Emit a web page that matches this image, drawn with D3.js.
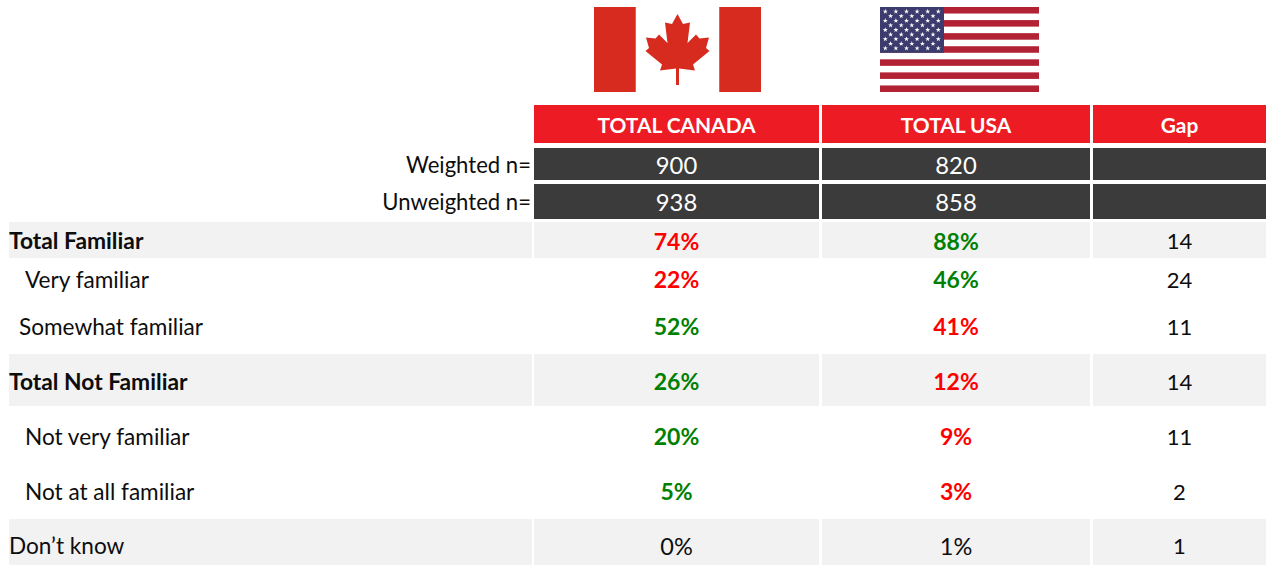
<!DOCTYPE html>
<html>
<head>
<meta charset="utf-8">
<script src="https://cdn.jsdelivr.net/npm/d3@7"></script>
<style>
    html, body { margin: 0; padding: 0; background: #fff; }
    svg { display: block; }
    text { font-family: Lato, "Open Sans", sans-serif; }
</style>
</head>
<body>
<div id="chart"></div>
<script>
const columns = ["TOTAL CANADA", "TOTAL USA", "Gap"];
const sampleRows = ["Weighted n=", "Unweighted n="];
const canadaSample = [900, 938];
const usaSample = [820, 858];

const rowLabels = ["Total Familiar", "Very familiar", "Somewhat familiar", "Total Not Familiar", "Not very familiar", "Not at all familiar", "Don’t know"];
const canadaValues = [74, 22, 52, 26, 20, 5, 0];
const usaValues = [88, 46, 41, 12, 9, 3, 1];
const gapValues = [14, 24, 11, 14, 11, 2, 1];
// g = green, r = red, n = plain black
const canadaTones = ["r", "r", "g", "g", "g", "g", "n"];
const usaTones = ["g", "g", "r", "r", "r", "r", "n"];
const shadedRows = ["Total Familiar", "Total Not Familiar", "Don’t know"];
const boldRows = ["Total Familiar", "Total Not Familiar"];
const indents = [0, 16, 10, 0, 16, 16, 0];

const outerWidth = 1266;
const outerHeight = 565;
const allRows = ["header"].concat(sampleRows, rowLabels);

// row edges are uneven in the original, so the scales are ordinal
const rowTop = d3.scaleOrdinal().domain(allRows).range([105, 148, 184, 222, 258, 304, 354, 406, 464, 519]);
const rowBottom = d3.scaleOrdinal().domain(allRows).range([143, 180, 219, 258, 304, 353, 406, 464, 518, 565]);
const rowMiddle = d3.scaleOrdinal().domain(allRows).range([126, 165.5, 202.5, 241.5, 280, 327, 382, 437, 492, 546.5]);
const colLeft = d3.scaleOrdinal().domain(columns).range([534, 822, 1093]);
const colRight = d3.scaleOrdinal().domain(columns).range([819, 1090, 1266]);
const colMiddle = (c) => (colLeft(c) + colRight(c)) / 2;
const toneColor = d3.scaleOrdinal().domain(["g", "r", "n"]).range(["#008000", "#ff0000", "#0d0d0d"]);

const svg = d3.select("#chart")
    .append("svg")
    .attr("width", outerWidth)
    .attr("height", outerHeight);

function drawCanadaFlag(g) {
    const x = d3.scaleLinear().domain([0, 1]).range([594, 761]);
    const y = d3.scaleLinear().domain([0, 1]).range([7, 92]);
    const red = "#d62b1e";
    g.append("rect").attr("x", x(0)).attr("y", y(0)).attr("width", x(0.25) - x(0)).attr("height", y(1) - y(0)).attr("fill", red);
    g.append("rect").attr("x", x(0.75)).attr("y", y(0)).attr("width", x(1) - x(0.75)).attr("height", y(1) - y(0)).attr("fill", red);

    // right half of the leaf, mirrored for the left half
    const half = [[0, 14], [5.5, 24], [12.5, 22.5], [10, 43], [18.5, 34.5], [22, 38.5], [31.5, 37.5], [28.5, 48], [32, 51], [15.5, 64.5], [17.5, 70.5], [1.5, 68.5], [1.5, 85], [0, 85]];
    const points = half.concat(half.slice().reverse().map((p) => [-p[0], p[1]]));
    g.append("path")
        .attr("d", d3.line().x((p) => 677.5 + p[0]).y((p) => p[1])(points) + "Z")
        .attr("fill", red);
}

function drawUsaFlag(g) {
    const left = 880;
    const right = 1039;
    const y = d3.scaleBand().domain(d3.range(13)).range([7, 92]);
    g.selectAll(".stripe")
        .data(d3.range(13).filter((i) => i % 2 === 0))
        .enter()
        .append("rect")
        .attr("class", "stripe")
        .attr("x", left)
        .attr("y", (i) => y(i))
        .attr("width", right - left)
        .attr("height", y.bandwidth())
        .attr("fill", "#b22234");
    const cantonRight = 944;
    const cantonBottom = y(7);
    g.append("rect")
        .attr("x", left)
        .attr("y", 7)
        .attr("width", cantonRight - left)
        .attr("height", cantonBottom - 7)
        .attr("fill", "#3c3b6e");

    const stars = [];
    d3.range(9).forEach((row) => {
        d3.range(row % 2 === 0 ? 6 : 5).forEach((col) => stars.push({row, col}));
    });
    const star = d3.symbol().type(d3.symbolStar).size(8);
    g.selectAll(".star")
        .data(stars)
        .enter()
        .append("path")
        .attr("class", "star")
        .attr("d", star)
        .attr("fill", "#ffffff")
        .attr("transform", (d) => `translate(${left + 5.3 + d.col * 10.6 + (d.row % 2 ? 5.3 : 0)}, ${11.5 + d.row * 4.6})`);
}

const flags = svg.append("g");
drawCanadaFlag(flags.append("g"));
drawUsaFlag(flags.append("g"));

function cell(row, col, fill) {
    svg.append("rect")
        .attr("x", colLeft(col))
        .attr("y", rowTop(row))
        .attr("width", colRight(col) - colLeft(col))
        .attr("height", rowBottom(row) - rowTop(row))
        .attr("fill", fill);
}

function label(x, row, str, color, size, weight, anchor) {
    svg.append("text")
        .attr("x", x)
        .attr("y", rowMiddle(row))
        .attr("dy", "0.35em")
        .attr("text-anchor", anchor || "middle")
        .attr("fill", color)
        .attr("font-size", size)
        .attr("font-weight", weight || 400)
        .text(str);
}

columns.forEach((c) => {
    cell("header", c, "#ed1c24");
    label(colMiddle(c), "header", c, "#ffffff", 20.9, 700);
    sampleRows.forEach((r) => cell(r, c, "#3b3b3b"));
});

sampleRows.forEach((r, i) => {
    label(531, r, r, "#0d0d0d", 22.1, 400, "end");
    label(colMiddle(columns[0]), r, canadaSample[i], "#ffffff", 23.8);
    label(colMiddle(columns[1]), r, usaSample[i], "#ffffff", 23.8);
});

shadedRows.forEach((r) => {
    svg.append("rect")
        .attr("x", 9)
        .attr("y", rowTop(r))
        .attr("width", 523)
        .attr("height", rowBottom(r) - rowTop(r))
        .attr("fill", "#f2f2f2");
    columns.forEach((c) => cell(r, c, "#f2f2f2"));
});

rowLabels.forEach((r, i) => {
    const bold = boldRows.includes(r);
    label(9 + indents[i], r, r, "#0d0d0d", bold ? 22.8 : 22.6, bold ? 700 : 400, "start");
    const coloured = canadaTones[i] !== "n";
    label(colMiddle(columns[0]), r, `${canadaValues[i]}%`, toneColor(canadaTones[i]), coloured ? 23 : 23.5, coloured ? 700 : 400);
    label(colMiddle(columns[1]), r, `${usaValues[i]}%`, toneColor(usaTones[i]), coloured ? 23 : 23.5, coloured ? 700 : 400);
    label(colMiddle(columns[2]), r, gapValues[i], "#0d0d0d", 22);
});
</script>
</body>
</html>
